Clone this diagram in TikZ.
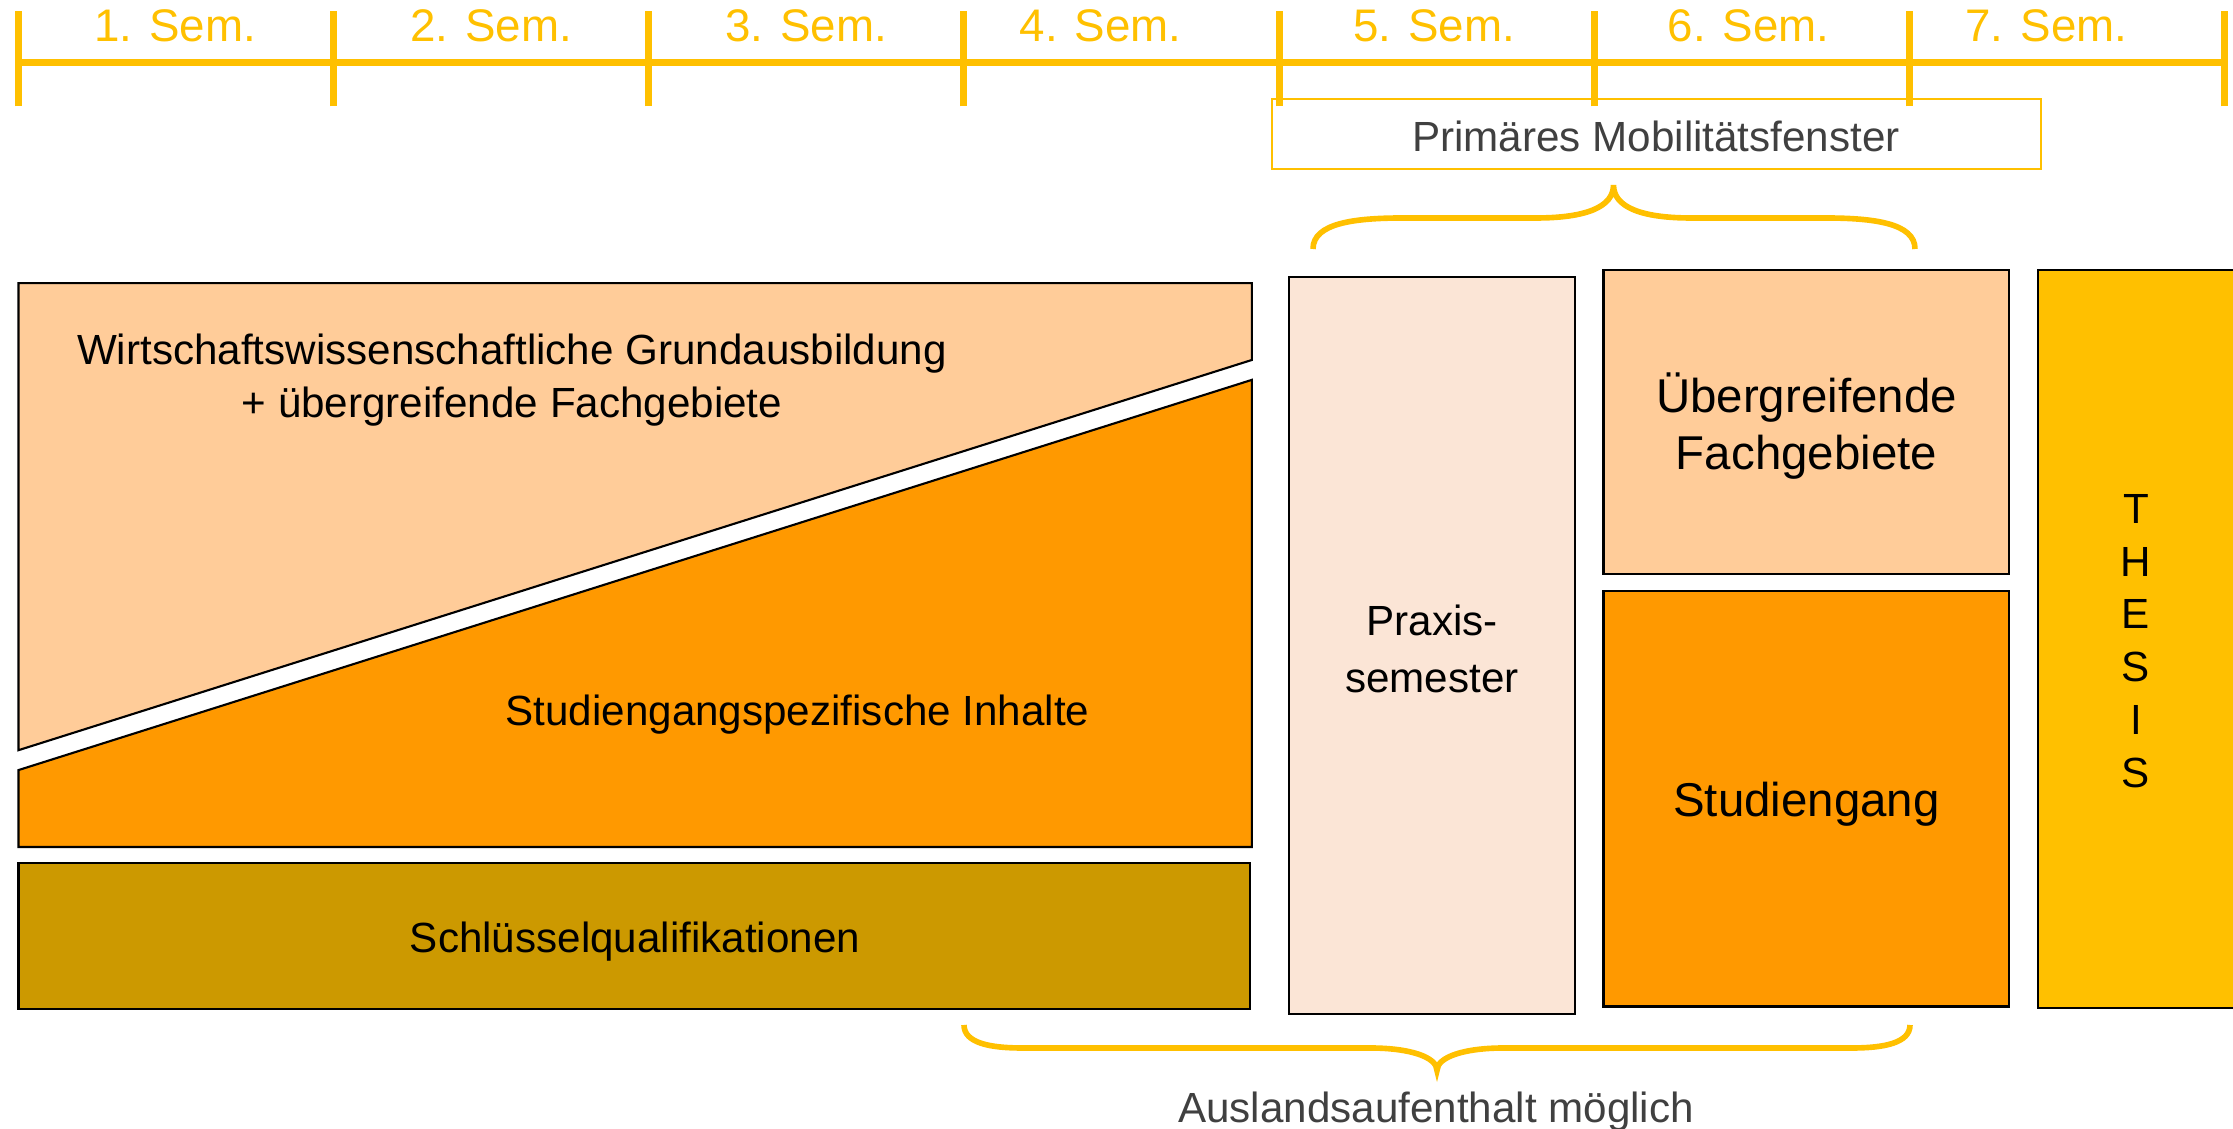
\documentclass[tikz,border=0pt]{standalone}
\usepackage{fontspec}
\setmainfont{Liberation Sans}
\usepackage{tikz}
\usetikzlibrary{positioning, calc}

\definecolor{semgold}{HTML}{FFC000}
\definecolor{peach}{HTML}{FFCC99}
\definecolor{deeporange}{HTML}{FF9900}
\definecolor{olivegold}{HTML}{CC9900}
\definecolor{praxisrose}{HTML}{FBE5D6}
\definecolor{labelgray}{HTML}{404040}

\begin{document}
\begin{tikzpicture}[
        block/.style={draw=black, line width=0.6pt},
        semline/.style={draw=semgold, line width=2pt},
        curly/.style={draw=semgold, line width=1.6pt},
        semlabel/.style={text=semgold, font=\fontsize{13}{15}\selectfont, anchor=base},
        bodytext/.style={font=\fontsize{12}{16}\selectfont, align=center, inner sep=0pt},
        bigtext/.style={font=\fontsize{13.5}{16}\selectfont, align=center, inner sep=0pt}
    ]
        \path[use as bounding box] (0,0) rectangle (22.33,11.29);
        % Zeitleiste
        \draw[semline] (0.185,10.667) -- (22.24,10.667);
        \foreach \i in {0,...,7}
            \draw[semline] ({0.185+3.1515*\i},10.225) -- ({0.185+3.1515*\i},11.18);
        \foreach \i/\x in {1/1.752, 2/4.913, 3/8.06, 4/11.008, 5/14.341, 6/17.488, 7/20.464}
            \node[semlabel] (sem\i) at (\x,10.87) {\i. Sem.};
        % Mobilitaetsfenster
        \draw[draw=semgold, line width=0.6pt] (12.717,9.598) rectangle (20.407,10.296);
        \node[bodytext, text=labelgray] (mobil) at (16.56,9.93) {Primäres Mobilitätsfenster};
        \coordinate (mobL) at (13.13,8.80);
        \coordinate (mobR) at (19.15,8.80);
        \coordinate (mobT) at (16.135,9.44);
        \draw[curly] (mobL) .. controls (13.13,9.06) and (13.55,9.11) .. (14.03,9.11) -- (15.36,9.11)
            .. controls (15.86,9.11) and (16.135,9.22) .. (mobT)
            .. controls (16.135,9.22) and (16.41,9.11) .. (16.91,9.11) -- (18.25,9.11)
            .. controls (18.73,9.11) and (19.15,9.06) .. (mobR);
        % Semester 1-4
        \draw[block, fill=peach] (0.185,8.459) -- (12.518,8.459) -- (12.518,7.690) -- (0.185,3.788) -- cycle;
        \draw[block, fill=deeporange] (0.185,3.589) -- (12.518,7.491) -- (12.518,2.820) -- (0.185,2.820) -- cycle;
        \draw[block, fill=olivegold] (0.185,1.196) rectangle (12.504,2.663);
        \node[bodytext, font=\fontsize{12}{15}\selectfont] (grund) at (5.12,7.49) {Wirtschaftswissenschaftliche Grundausbildung\\+ übergreifende Fachgebiete};
        \node[bodytext] (spezi) at (7.975,4.14) {Studiengangspezifische Inhalte};
        \node[bodytext] (schluessel) at (6.35,1.87) {Schlüsselqualifikationen};
        % Semester 5-7
        \draw[block, fill=praxisrose] (12.888,1.154) rectangle (15.751,8.516);
        \node[bodytext] (praxis) at (14.32,4.80) {Praxis-\\semester};
        \draw[block, fill=peach] (16.035,5.554) rectangle (20.094,8.587);
        \node[bigtext] (fach) at (18.065,7.03) {Übergreifende\\Fachgebiete};
        \draw[block, fill=deeporange] (16.035,1.225) rectangle (20.094,5.383);
        \node[bigtext] (studi) at (18.065,3.25) {Studiengang};
        \draw[block, fill=semgold] (20.379,1.210) rectangle (22.40,8.587);
        \node[bodytext, font=\fontsize{12}{15}\selectfont] (thesis) at (21.36,4.88) {T\\H\\E\\S\\I\\S};
        % Ausland
        \coordinate (ausL) at (9.64,1.04);
        \coordinate (ausR) at (19.10,1.04);
        \coordinate (ausT) at (14.37,0.584);
        \draw[curly] (ausL) .. controls (9.64,0.86) and (9.90,0.81) .. (10.22,0.81) -- (13.70,0.81)
            .. controls (14.10,0.81) and (14.37,0.72) .. (ausT)
            .. controls (14.37,0.72) and (14.64,0.81) .. (15.04,0.81) -- (18.52,0.81)
            .. controls (18.84,0.81) and (19.10,0.86) .. (ausR);
        \node[bodytext, text=labelgray, anchor=base] (ausland) at (14.36,0.06) {Auslandsaufenthalt möglich};
    \end{tikzpicture}
\end{document}
